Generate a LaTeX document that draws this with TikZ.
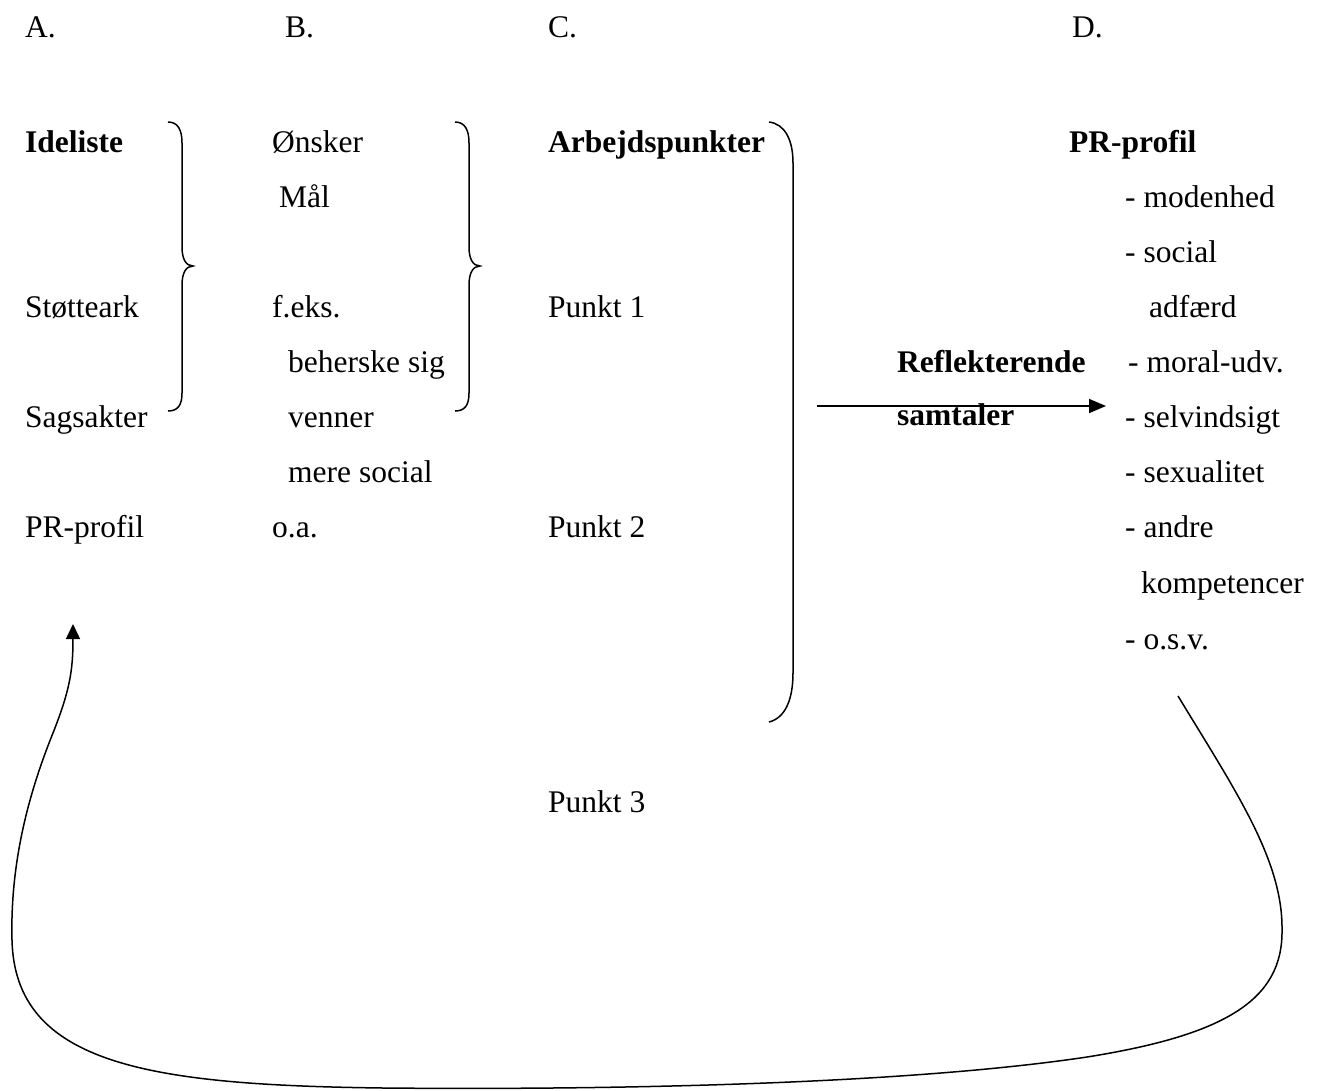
\documentclass[tikz,border=0pt]{standalone}
\usepackage{fontspec}
\setmainfont{Liberation Serif}
\usetikzlibrary{arrows.meta}
\tikzset{
  txt/.style={anchor=base west,inner sep=0pt,font=\fontsize{31.5}{38}\selectfont},
  hd/.style={txt,font=\fontsize{31.5}{38}\selectfont\bfseries},
  streg/.style={line width=1.5pt}
}
\begin{document}
\begin{tikzpicture}[>={Triangle[length=15pt,width=14pt]},x=1pt,y=-1pt]
		\useasboundingbox (0,0) rectangle (1320,1090);
		% overskrifter
		\node[txt] (colA) at (25,37) {A.};
		\node[txt] (colB) at (285,37) {B.};
		\node[txt] (colC) at (548,37) {C.};
		\node[txt] (colD) at (1072,37) {D.};
		% kolonne A
		\node[hd] (ideliste) at (25,152) {Ideliste};
		\node[txt] (stotteark) at (25,317) {Støtteark};
		\node[txt] (sagsakter) at (25,427) {Sagsakter};
		\node[txt] (prA) at (25,537) {PR-profil};
		% kolonne B
		\node[txt] (onsker) at (272,152) {Ønsker};
		\node[txt] (maal) at (279,207) {Mål};
		\node[txt] (feks) at (272,317) {f.eks.};
		\node[txt] (behersk) at (288,372) {beherske sig};
		\node[txt] (venner) at (288,427) {venner};
		\node[txt] (social) at (288,482) {mere social};
		\node[txt] (oa) at (272,537) {o.a.};
		% kolonne C
		\node[hd] (arbejd) at (548,152) {Arbejdspunkter};
		\node[txt] (p1) at (548,317) {Punkt 1};
		\node[txt] (p2) at (548,537) {Punkt 2};
		\node[txt] (p3) at (548,812) {Punkt 3};
		% kolonne D
		\node[hd] (prD) at (1069,152) {PR-profil};
		\node[txt] (d1) at (1125,207) {- modenhed};
		\node[txt] (d2) at (1125,262) {- social};
		\node[txt] (d2b) at (1149,317) {adfærd};
		\node[txt] (d3) at (1128,372) {- moral-udv.};
		\node[txt] (d4) at (1125,427) {- selvindsigt};
		\node[txt] (d5) at (1125,482) {- sexualitet};
		\node[txt] (d6) at (1125,537) {- andre};
		\node[txt] (d6b) at (1141,593) {kompetencer};
		\node[txt] (d7) at (1125,649) {- o.s.v.};
		% samtaler
		\node[hd] (refl) at (897,372) {Reflekterende};
		\node[hd] (samt) at (897,425) {samtaler};
		% tuborgklammer
		\foreach \dx in {0,287}
		\draw[streg,xshift=\dx pt] (168,122) .. controls (178,122) and (182,130) .. (182,143) -- (182,247)
		  .. controls (182,259) and (186,266) .. (193,266) .. controls (186,266) and (182,273) .. (182,285)
		  -- (182,393) .. controls (182,405) and (178,411) .. (168,411);
		\draw[streg] (769,122) .. controls (785,124) and (793,140) .. (793,163) -- (793,673)
		  .. controls (793,700) and (785,718) .. (769,722);
		% pile
		\coordinate (arS) at (817,406);
		\coordinate (arE) at (1106,406);
		\draw[-{Triangle[length=17pt,width=14pt]},line width=1.8pt] (arS) -- (arE);
		\coordinate (kS) at (1178,696);
		\coordinate (kE) at (73,624);
		\draw[->,streg] (kS) .. controls (1235,790) and (1283,860) .. (1282,930)
		  .. controls (1283,1000) and (1225,1035) .. (1087,1057)
		  .. controls (900,1085) and (600,1090) .. (383,1088)
		  .. controls (150,1085) and (15,1065) .. (12,940)
		  .. controls (10,860) and (30,790) .. (53,733)
		  .. controls (70,690) and (73,670) .. (kE);
		\end{tikzpicture}
\end{document}
